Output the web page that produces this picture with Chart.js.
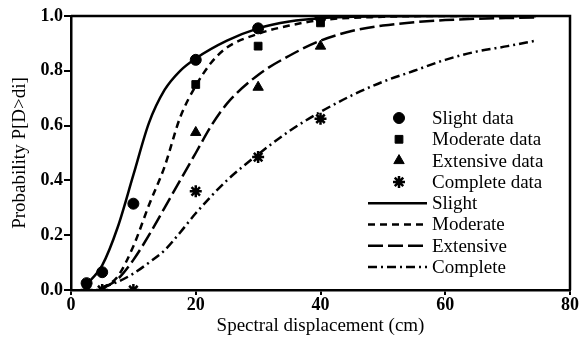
<!DOCTYPE html>
<html>
<head>
<meta charset="utf-8">
<script src="https://cdn.jsdelivr.net/npm/chart.js@4.4.1/dist/chart.umd.min.js"></script>
<style>
  html, body { margin: 0; padding: 0; background: #fff; }
  #wrap { width: 579px; height: 348px; position: relative; }
</style>
</head>
<body>
<div id="wrap"><canvas id="c" width="579" height="348"></canvas></div>
<script>
// ---- data ----
const xTicks = [0, 20, 40, 60, 80];
const yTicks = [0.0, 0.2, 0.4, 0.6, 0.8, 1.0];

// observed data points
const slightDataX    = [2.5, 5, 10, 20, 30, 40];
const slightDataY    = [0.025, 0.065, 0.315, 0.84, 0.955, 0.995];
const moderateDataX  = [20, 30, 40];
const moderateDataY  = [0.75, 0.89, 0.975];
const extensiveDataX = [20, 30, 40];
const extensiveDataY = [0.575, 0.74, 0.89];
const completeDataX  = [2.5, 5, 10, 20, 30, 40];
const completeDataY  = [0.0, 0.0, 0.0, 0.36, 0.485, 0.625];

// fitted curves
const slightX    = [2.5, 5, 7.5, 10, 12.5, 15, 17.5, 20, 25, 30, 35, 40, 50, 60, 74.5];
const slightY    = [0.02, 0.09, 0.23, 0.42, 0.61, 0.73, 0.80, 0.845, 0.91, 0.955, 0.98, 0.992, 0.999, 1.0, 1.0];
const moderateX  = [5, 7.5, 10, 12.5, 15, 17.5, 20, 22.5, 25, 30, 35, 40, 50, 60, 74.5];
const moderateY  = [0.005, 0.05, 0.16, 0.31, 0.45, 0.63, 0.745, 0.83, 0.885, 0.935, 0.965, 0.985, 0.997, 1.0, 1.0];
const extensiveX = [5, 7.5, 10, 12.5, 15, 17.5, 20, 22.5, 25, 30, 35, 40, 45, 50, 60, 74.5];
const extensiveY = [0.005, 0.04, 0.11, 0.2, 0.3, 0.4, 0.5, 0.6, 0.68, 0.785, 0.855, 0.91, 0.945, 0.965, 0.985, 0.995];
const completeX  = [5, 7.5, 10, 12.5, 15, 17.5, 20, 25, 30, 35, 40, 45, 50, 55, 60, 65, 70, 74.5];
const completeY  = [0.01, 0.03, 0.06, 0.1, 0.145, 0.21, 0.28, 0.40, 0.495, 0.58, 0.65, 0.71, 0.76, 0.80, 0.84, 0.87, 0.89, 0.91];

const xTitle = 'Spectral displacement (cm)';
const yTitle = 'Probability P[D>di]';

function pts(xs, ys) { return xs.map((x, i) => ({x: x, y: ys[i]})); }

const SERIF = "'Liberation Serif', 'Times New Roman', serif";

function markerSet(label, xs, ys, style, r) {
  return {
    label: label, data: pts(xs, ys), showLine: false, order: 0,
    pointStyle: style, pointRadius: r, pointHoverRadius: r,
    backgroundColor: '#000', borderColor: '#000', pointBorderWidth: style === 'star' ? 2.5 : 1
  };
}
function lineSet(label, xs, ys, dash) {
  return {
    label: label, data: pts(xs, ys), showLine: true, order: 1,
    pointRadius: 0, borderColor: '#000', borderWidth: 2.5, borderDash: dash,
    cubicInterpolationMode: 'monotone', fill: false
  };
}

const datasets = [
  markerSet('Slight data', slightDataX, slightDataY, 'circle', 5.5),
  markerSet('Moderate data', moderateDataX, moderateDataY, 'rect', 5.5),
  markerSet('Extensive data', extensiveDataX, extensiveDataY, 'triangle', 6),
  markerSet('Complete data', completeDataX, completeDataY, 'star', 6),
  lineSet('Slight', slightX, slightY, []),
  lineSet('Moderate', moderateX, moderateY, [7, 5]),
  lineSet('Extensive', extensiveX, extensiveY, [15, 5]),
  lineSet('Complete', completeX, completeY, [9, 4, 2, 4])
];

const framePlugin = {
  id: 'frame',
  afterDatasetsDraw(chart) {
    const {ctx, chartArea: a} = chart;
    ctx.save();
    ctx.strokeStyle = '#000';
    ctx.lineWidth = 2.5;
    ctx.beginPath();
    ctx.moveTo(a.left, a.top);
    ctx.lineTo(a.right, a.top);
    ctx.lineTo(a.right, a.bottom);
    ctx.stroke();
    ctx.restore();
  }
};

const legendPlugin = {
  id: 'customLegend',
  afterDraw(chart) {
    const {ctx} = chart;
    const ds = chart.data.datasets;
    const x0 = 368, x1 = 427, mx = 399, tx = 432;
    const y0 = 118, dy = 21.3;
    ctx.save();
    ctx.font = '19px ' + SERIF;
    ctx.textBaseline = 'middle';
    ctx.textAlign = 'left';
    ctx.fillStyle = '#000';
    ctx.strokeStyle = '#000';
    ds.forEach((d, i) => {
      const y = y0 + i * dy;
      if (d.showLine) {
        ctx.lineWidth = 2.5;
        ctx.setLineDash(d.borderDash || []);
        ctx.beginPath();
        ctx.moveTo(x0, y);
        ctx.lineTo(x1, y);
        ctx.stroke();
        ctx.setLineDash([]);
      } else {
        ctx.lineWidth = d.pointBorderWidth;
        Chart.helpers.drawPoint(ctx, {
          pointStyle: d.pointStyle, radius: d.pointRadius, rotation: 0,
          borderWidth: d.pointBorderWidth
        }, mx, y);
      }
      ctx.fillText(d.label, tx, y + 1);
    });
    ctx.restore();
  }
};

new Chart(document.getElementById('c'), {
  type: 'scatter',
  data: { datasets: datasets },
  options: {
    responsive: false,
    animation: false,
    devicePixelRatio: 1,
    layout: { padding: { top: 16, right: 9, left: 0, bottom: 0 } },
    plugins: { legend: { display: false }, tooltip: { enabled: false } },
    elements: { point: { borderColor: '#000', backgroundColor: '#000' } },
    scales: {
      x: {
        type: 'linear', min: 0, max: 80,
        afterBuildTicks(s) { s.ticks = xTicks.map(v => ({value: v})); },
        afterFit(s) { s.height = 58; },
        border: { display: true, color: '#000', width: 2.5 },
        grid: { display: true, drawOnChartArea: false, drawTicks: true, tickLength: 5, color: '#000', lineWidth: 2 },
        ticks: { color: '#000', padding: 0, maxRotation: 0, font: { family: SERIF, size: 18, weight: 'bold' },
                 callback: v => String(v) },
        title: { display: true, text: xTitle, color: '#000', font: { family: SERIF, size: 19 }, padding: { top: 0, bottom: 11 } }
      },
      y: {
        type: 'linear', min: 0, max: 1,
        afterBuildTicks(s) { s.ticks = yTicks.map(v => ({value: v})); },
        afterFit(s) { s.width = 71; },
        border: { display: true, color: '#000', width: 2.5 },
        grid: { display: true, drawOnChartArea: false, drawTicks: true, tickLength: 7, color: '#000', lineWidth: 2 },
        ticks: { color: '#000', padding: 1, font: { family: SERIF, size: 18, weight: 'bold' },
                 callback: v => Number(v).toFixed(1) },
        title: { display: true, text: yTitle, color: '#000', font: { family: SERIF, size: 19 }, padding: { top: 9, bottom: 0 } }
      }
    }
  },
  plugins: [framePlugin, legendPlugin]
});
</script>
</body>
</html>
